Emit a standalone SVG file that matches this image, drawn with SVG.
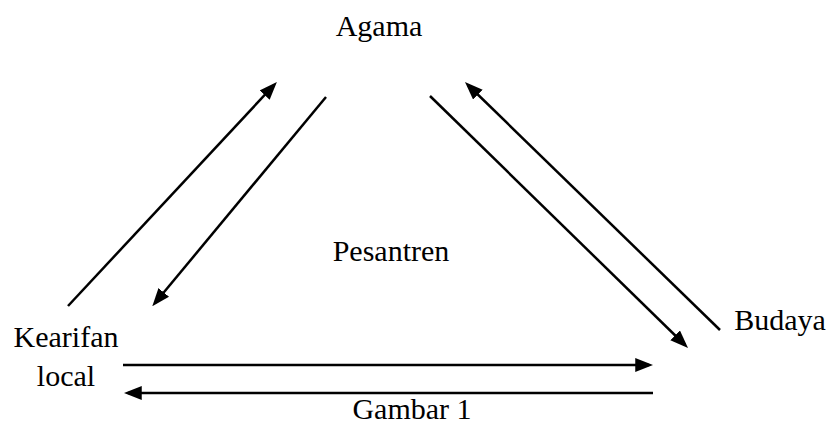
<svg xmlns="http://www.w3.org/2000/svg" width="831" height="423" viewBox="0 0 831 423">
<style>
text{font-family:"Liberation Serif","Times New Roman",serif;font-size:30px;fill:#000}
.c line{stroke:#000;stroke-width:2.5;marker-end:url(#ah)}
</style>
<defs>
<marker id="ah" markerUnits="userSpaceOnUse" markerWidth="18" markerHeight="14" refX="13" refY="6.5" orient="auto" viewBox="0 0 17 13">
<path d="M0,0 L17,6.5 L0,13 z" fill="#000"/>
</marker>
</defs>
<rect width="831" height="423" fill="#fff"/>
<g id="agama"><text x="379" y="36" text-anchor="middle">Agama</text></g>
<g id="pesantren"><text x="391" y="261" text-anchor="middle">Pesantren</text></g>
<g id="kearifan"><text x="66" y="347" text-anchor="middle">Kearifan</text><text x="66" y="386" text-anchor="middle">local</text></g>
<g id="budaya"><text x="780" y="330" text-anchor="middle">Budaya</text></g>
<g id="gambar"><text x="412" y="419" text-anchor="middle">Gambar 1</text></g>
<g class="c" id="connectors">
<line x1="68" y1="306" x2="274" y2="85"/>
<line x1="326" y1="97" x2="155" y2="303"/>
<line x1="430" y1="96" x2="685" y2="345"/>
<line x1="720" y1="330" x2="468" y2="85"/>
<line x1="123" y1="365" x2="649" y2="365"/>
<line x1="653" y1="393" x2="128" y2="393"/>
</g>
</svg>
